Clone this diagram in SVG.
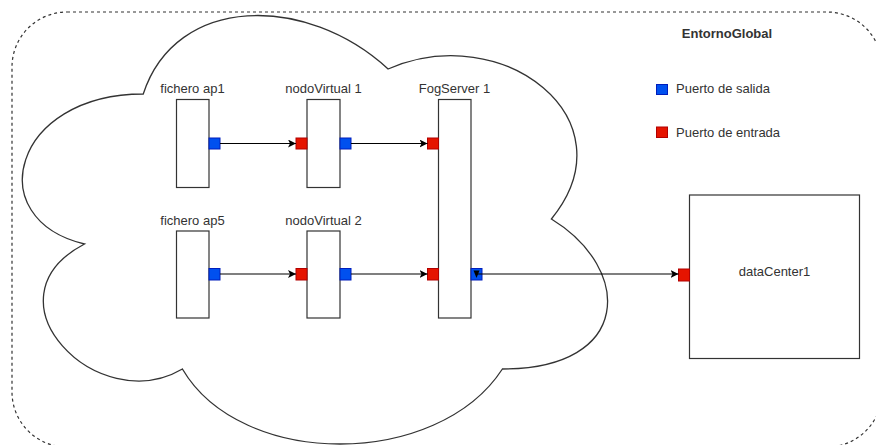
<svg xmlns="http://www.w3.org/2000/svg" width="876" height="445" viewBox="0 0 876 445">
  <style>
    .lbl { font-family: "Liberation Sans", Arial, sans-serif; font-size: 13px; fill: #333333; }
    .title { font-weight: bold; }
    .box { fill: #ffffff; stroke: #333333; stroke-width: 1.2; }
    .out { fill: #0050EF; stroke: #001DBC; stroke-width: 1; }
    .in { fill: #E51400; stroke: #B20000; stroke-width: 1; }
    .edge { fill: none; stroke: #000000; stroke-width: 1.2; marker-end: url(#arrow); }
  </style>
  <defs>
    <marker id="arrow" markerUnits="userSpaceOnUse" markerWidth="10" markerHeight="10" refX="8" refY="4" orient="auto">
      <path d="M0,0 L8,4 L0,8 L2,4 Z" fill="#000000"/>
    </marker>
  </defs>
  <rect width="876" height="445" fill="#ffffff"/>

  <g id="entornoGlobal">
    <rect x="12" y="12" width="870" height="435" rx="55" ry="55" fill="#ffffff" stroke="#333333" stroke-width="1.2" stroke-dasharray="3 3"/>
    <text class="lbl title" x="727" y="38" text-anchor="middle">EntornoGlobal</text>
  </g>

  <g id="cloud">
    <path d="M143.25,94 C12.65,94 -20,219 84.5,244 C-20,299 97.5,419 182.4,369 C241.2,469 437.1,469 502.4,369 C633,369 633,269 551.4,219 C633,119 502.4,19 388.1,69 C306.5,-6 175.9,-6 143.25,94 Z" fill="#ffffff" stroke="#333333" stroke-width="1.3"/>
  </g>

  <g id="legend">
    <rect class="out" x="656.5" y="84.5" width="11" height="10"/>
    <text class="lbl" x="676" y="93">Puerto de salida</text>
    <rect class="in" x="656.5" y="127" width="11" height="10.5"/>
    <text class="lbl" x="676" y="136.5">Puerto de entrada</text>
  </g>

  <g id="ficheroAp1">
    <rect class="box" x="176.5" y="99.5" width="32.5" height="88"/>
    <text class="lbl" x="192.5" y="93" text-anchor="middle">fichero ap1</text>
    <rect class="out" x="209" y="138" width="11" height="11"/>
  </g>

  <g id="nodoVirtual1">
    <rect class="box" x="307" y="99.5" width="33" height="88"/>
    <text class="lbl" x="323.5" y="93" text-anchor="middle">nodoVirtual 1</text>
    <rect class="in" x="296" y="138" width="11" height="11"/>
    <rect class="out" x="340" y="138" width="11" height="11"/>
  </g>

  <g id="fogServer1">
    <rect class="box" x="438.5" y="99.5" width="32.5" height="218.5"/>
    <text class="lbl" x="454.5" y="93" text-anchor="middle">FogServer 1</text>
    <rect class="in" x="427.5" y="138" width="11" height="11"/>
    <rect class="in" x="427.5" y="268.5" width="11" height="11.5"/>
    <rect class="out" x="471" y="268.5" width="11" height="11.5"/>
  </g>

  <g id="ficheroAp5">
    <rect class="box" x="176.5" y="231" width="32.5" height="87"/>
    <text class="lbl" x="192.5" y="225" text-anchor="middle">fichero ap5</text>
    <rect class="out" x="209" y="268.5" width="11" height="11.5"/>
  </g>

  <g id="nodoVirtual2">
    <rect class="box" x="307" y="231" width="33" height="87"/>
    <text class="lbl" x="323.5" y="225" text-anchor="middle">nodoVirtual 2</text>
    <rect class="in" x="296" y="268.5" width="11" height="11.5"/>
    <rect class="out" x="340" y="268.5" width="11" height="11.5"/>
  </g>

  <g id="dataCenter1">
    <rect class="box" x="689.5" y="195" width="170" height="163.5"/>
    <text class="lbl" x="774.5" y="276" text-anchor="middle">dataCenter1</text>
    <rect class="in" x="678.5" y="269" width="11" height="12"/>
  </g>

  <g id="connectors">
    <line class="edge" x1="220" y1="143.5" x2="296" y2="143.5"/>
    <line class="edge" x1="351" y1="143.5" x2="427.5" y2="143.5"/>
    <line class="edge" x1="220" y1="274" x2="296" y2="274"/>
    <line class="edge" x1="351" y1="274" x2="427.5" y2="274"/>
    <line class="edge" x1="476.5" y1="274" x2="678.5" y2="274"/>
    <path d="M473.5,270.5 L479.5,270.5 L476.5,278 Z" fill="#000000"/>
  </g>
</svg>
